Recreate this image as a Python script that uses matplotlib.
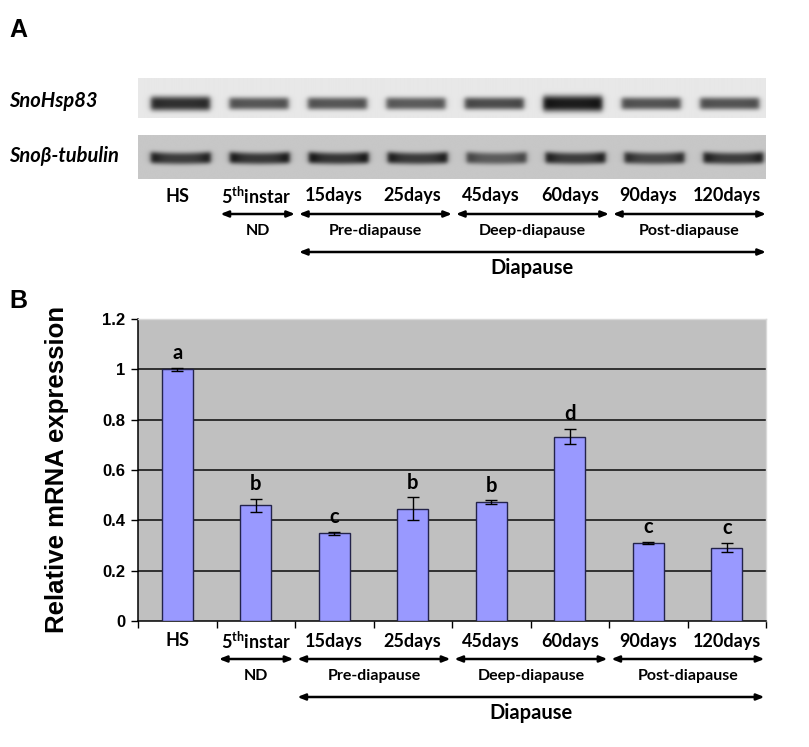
import numpy as np
import matplotlib
matplotlib.use("Agg")
import matplotlib.pyplot as plt
from matplotlib.transforms import blended_transform_factory

# ---------------- data ----------------
categories = ["HS", "5$^{\\mathrm{th}}$instar", "15days", "25days",
              "45days", "60days", "90days", "120days"]
expression = [1.0, 0.460, 0.348, 0.447, 0.472, 0.733, 0.310, 0.292]
errors = [0.005, 0.026, 0.006, 0.044, 0.008, 0.031, 0.005, 0.019]
letters = ["a", "b", "c", "b", "b", "d", "c", "c"]
hsp83_band = [0.72, 0.57, 0.57, 0.55, 0.61, 0.80, 0.58, 0.58]
tubulin_band = [0.54, 0.56, 0.57, 0.55, 0.42, 0.54, 0.50, 0.54]
y_ticks = [0, 0.2, 0.4, 0.6, 0.8, 1.0, 1.2]
y_tick_labels = ["0", "0.2", "0.4", "0.6", "0.8", "1", "1.2"]
stages = [("ND", 1, 1), ("Pre-diapause", 2, 3),
          ("Deep-diapause", 4, 5), ("Post-diapause", 6, 7)]
period = ("Diapause", 2, 7)
genes = ["SnoHsp83", "Sno\u03b2-tubulin"]

# ---------------- style ----------------
plt.rcParams["mathtext.fontset"] = "custom"
plt.rcParams["mathtext.rm"] = "Lato:bold"
plt.rcParams["mathtext.it"] = "Lato:bold:italic"
plt.rcParams["mathtext.bf"] = "Lato:bold"
LAB = dict(family=["Lato", "DejaVu Sans"], weight="bold")
ARI = dict(family=["Liberation Sans", "DejaVu Sans"], weight="bold")

W, H = 809, 747
fig = plt.figure(figsize=(W / 100, H / 100), dpi=100)


def fy(y):
    return 1 - y / H


def fx(x):
    return x / W


n = len(categories)
xpos = np.arange(n)

# ---------------- panel A (gel) ----------------
axA = fig.add_axes([fx(138), fy(275), fx(766) - fx(138), fy(70) - fy(275)])
axA.set_xlim(-0.5, n - 0.5)
axA.set_ylim(275, 70)
axA.axis("off")

xs = np.linspace(-0.5, n - 0.5, 1600)


def gel_image(intens, y0, y1, yc, bg, smile, base_sy):
    ys = np.linspace(y0, y1, 240)
    X, Y = np.meshgrid(xs, ys)
    img = np.full_like(X, bg)
    hw = 0.375
    for i, I in enumerate(intens):
        dx = X - (i + 0.04)
        hprof = 0.5 * (np.tanh((dx + hw) / 0.04) - np.tanh((dx - hw) / 0.04))
        sy = max(base_sy, base_sy + 10 * (I - 0.62))
        ycen = yc - 1.0 * smile * (dx / hw) ** 2
        vprof = np.exp(-np.abs((Y - ycen) / sy) ** 3.0)
        edge = 1 + (0.12 + 0.35 * smile) * np.clip(np.abs(dx / hw), 0, 1) ** 4
        img -= I * hprof * vprof * edge
    return np.clip(img, 0, 1)


g1 = gel_image(hsp83_band, 78, 118, 103.5, 0.91, 0.0, 6.3)
g2 = gel_image(tubulin_band, 135, 179, 158.5, 0.78, 1.0, 6.0)
axA.imshow(g1, cmap="gray", vmin=0, vmax=1, aspect="auto",
           extent=(-0.5, n - 0.5, 118, 78), interpolation="bilinear")
axA.imshow(g2, cmap="gray", vmin=0, vmax=1, aspect="auto",
           extent=(-0.5, n - 0.45, 179, 135), interpolation="bilinear")
axA.set_xlim(-0.5, n - 0.5)
axA.set_ylim(275, 70)

arrow_style = dict(arrowstyle="<|-|>,head_length=0.45,head_width=0.18",
                   color="black", lw=1.8, shrinkA=0, shrinkB=0)


def stage_block(ax, tr, y_lab, y_arr, y_grp, y_parr, y_ptxt, a0, a1):
    for i, c in enumerate(categories):
        ax.text(i, y_lab, c, transform=tr, ha="center", va="center",
                fontsize=13, **LAB)
    for name, i0, i1 in stages:
        s, e = i0 - a0, i1 + a1
        ax.annotate("", xy=(e, y_arr), xytext=(s, y_arr), xycoords=tr,
                    textcoords=tr, arrowprops=arrow_style)
        ax.text((s + e) / 2, y_grp, name, transform=tr, ha="center",
                va="center", fontsize=11.5, **LAB)
    name, i0, i1 = period
    s, e = i0 - a0, i1 + a1
    ax.annotate("", xy=(e, y_parr), xytext=(s, y_parr), xycoords=tr,
                textcoords=tr, arrowprops=arrow_style)
    ax.text((s + e) / 2, y_ptxt, name, transform=tr, ha="center",
            va="center", fontsize=14.5, **LAB)


trA = blended_transform_factory(axA.transData, fig.transFigure)
stage_block(axA, trA, fy(196), fy(214), fy(231), fy(252), fy(268), 0.45, 0.5)

fig.text(fx(9), fy(101), genes[0], ha="left", va="center", fontsize=14.5,
         style="italic", **LAB)
fig.text(fx(9), fy(156), genes[1], ha="left", va="center", fontsize=14.5,
         style="italic", **LAB)

fig.text(fx(9), fy(30), "A", ha="left", va="center", fontsize=18, **ARI)
fig.text(fx(9), fy(301), "B", ha="left", va="center", fontsize=18, **ARI)

# ---------------- panel B (bars) ----------------
axB = fig.add_axes([fx(138), fy(621), fx(766) - fx(138), fy(319) - fy(621)])
axB.set_facecolor("#c0c0c0")
axB.set_xlim(-0.5, n - 0.5)
axB.set_ylim(0, 1.2)
for t in y_ticks[1:-1]:
    axB.axhline(t, color="#262626", lw=1.3, zorder=1)
axB.bar(xpos, expression, width=0.39, color="#9999ff", edgecolor="#23234a",
        lw=1.0, zorder=3, yerr=errors, capsize=4,
        error_kw=dict(elinewidth=1.0, capthick=1.0, ecolor="black", zorder=4))
for i, (v, e, L) in enumerate(zip(expression, errors, letters)):
    axB.text(i, v + e + 0.058, L, ha="center", va="center", fontsize=14.5,
             zorder=5, **LAB)

axB.set_yticks(y_ticks)
axB.set_yticklabels(y_tick_labels, fontsize=12, **ARI)
axB.tick_params(axis="y", direction="out", length=5, width=1, pad=4)
axB.set_xticks(xpos)
axB.set_xticklabels([""] * n)
axB.tick_params(axis="x", which="major", length=0)
axB.set_xticks(np.arange(-0.5, n, 1.0), minor=True)
axB.tick_params(axis="x", which="minor", direction="out", length=5, width=1)
for s in ["left", "bottom"]:
    axB.spines[s].set_color("black")
    axB.spines[s].set_linewidth(1.1)
for s in ["top", "right"]:
    axB.spines[s].set_color("#d9d9d9")
    axB.spines[s].set_linewidth(1.0)

fig.text(fx(57), fy(469), "Relative mRNA expression", rotation=90,
         ha="center", va="center", fontsize=18.5, **ARI)

trB = blended_transform_factory(axB.transData, fig.transFigure)
stage_block(axB, trB, fy(641), fy(659), fy(676), fy(697), fy(713), 0.47, 0.48)

fig.savefig("out.png", dpi=100, facecolor="white")
